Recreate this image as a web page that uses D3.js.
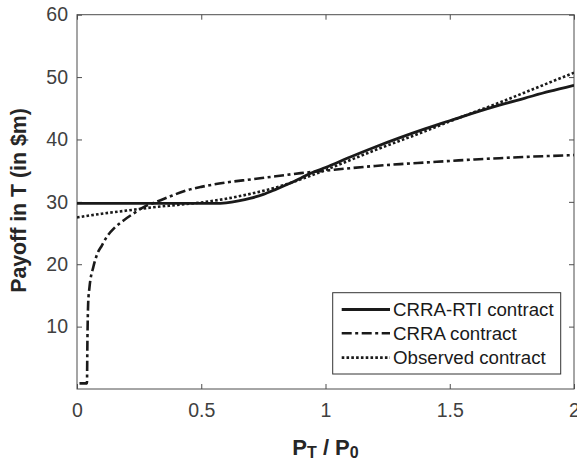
<!DOCTYPE html>
<html>
<head>
<meta charset="utf-8">
<script src="https://cdn.jsdelivr.net/npm/d3@7/dist/d3.min.js"></script>
<style>
  html, body { margin: 0; padding: 0; background: #fff; }
  svg { display: block; font-family: "Liberation Sans", Arial, Helvetica, sans-serif; }
</style>
</head>
<body>
<svg id="chart" width="577" height="461"></svg>
<script>
// ---- data ----
const rtiX   = [0, 0.1, 0.2, 0.3, 0.4, 0.5, 0.55, 0.6, 0.65, 0.7, 0.75, 0.8, 0.85, 0.9, 0.95, 1.0, 1.1, 1.2, 1.3, 1.4, 1.5, 1.6, 1.7, 1.8, 1.9, 2.0];
const rtiY   = [29.75, 29.75, 29.75, 29.75, 29.75, 29.75, 29.76, 29.85, 30.15, 30.6, 31.2, 32.0, 32.85, 33.8, 34.75, 35.5, 37.2, 38.8, 40.3, 41.7, 43.0, 44.3, 45.5, 46.6, 47.7, 48.7];

const crraX  = [0.01, 0.025, 0.04, 0.042, 0.045, 0.05, 0.066, 0.08, 0.1, 0.12, 0.15, 0.19, 0.23, 0.27, 0.32, 0.37, 0.43, 0.5, 0.6, 0.7, 0.8, 0.9, 1.0, 1.1, 1.2, 1.3, 1.4, 1.5, 1.6, 1.7, 1.8, 1.9, 2.0];
const crraY  = [0.9, 0.9, 0.9, 8.0, 13.8, 16.2, 19.6, 21.5, 23.0, 24.4, 25.8, 27.1, 28.2, 29.2, 30.0, 30.8, 31.7, 32.4, 33.1, 33.6, 34.1, 34.6, 35.0, 35.4, 35.75, 36.05, 36.3, 36.55, 36.8, 37.0, 37.2, 37.35, 37.5];

const obsX   = [0, 0.1, 0.2, 0.3, 0.4, 0.5, 0.6, 0.7, 0.8, 0.9, 1.0, 1.1, 1.2, 1.3, 1.4, 1.5, 1.6, 1.7, 1.8, 1.9, 2.0];
const obsY   = [27.5, 28.1, 28.6, 29.1, 29.5, 29.9, 30.5, 31.3, 32.3, 33.6, 35.1, 36.7, 38.3, 39.8, 41.3, 42.9, 44.4, 45.9, 47.5, 49.1, 50.7];

const xTicks = [0, 0.5, 1, 1.5, 2];
const xTickLabels = ["0", "0.5", "1", "1.5", "2"];
const yTicks = [10, 20, 30, 40, 50, 60];
const yTickLabels = ["10", "20", "30", "40", "50", "60"];

const seriesNames = ["CRRA-RTI contract", "CRRA contract", "Observed contract"];

// ---- layout ----
const svg = d3.select("#chart");
const L = 77, R = 574, T = 14.7, B = 389;
const axisColor = "#4d4d4d";
const textColor = "#404040";
const lineColor = "#1a1a1a";

const x = d3.scaleLinear().domain([0, 2]).range([L, R]);
const y = d3.scaleLinear().domain([0, 60]).range([B, T]);

// box
svg.append("rect")
  .attr("x", L).attr("y", T).attr("width", R - L).attr("height", B - T)
  .attr("fill", "none").attr("stroke", axisColor).attr("stroke-width", 1);

const tickLen = 5;
const fmtX = (d, i) => xTickLabels[i];
const fmtY = (d, i) => yTickLabels[i];

// bottom axis
const gB = svg.append("g").attr("transform", `translate(0,${B})`)
  .call(d3.axisBottom(x).tickValues(xTicks).tickFormat(fmtX).tickSizeInner(-tickLen).tickSizeOuter(0).tickPadding(14));
// left axis
const gL = svg.append("g").attr("transform", `translate(${L},0)`)
  .call(d3.axisLeft(y).tickValues(yTicks).tickFormat(fmtY).tickSizeInner(-tickLen).tickSizeOuter(0).tickPadding(14));
// top axis
const gT = svg.append("g").attr("transform", `translate(0,${T})`)
  .call(d3.axisTop(x).tickValues(xTicks).tickFormat("").tickSizeInner(-tickLen).tickSizeOuter(0));
// right axis
const gR = svg.append("g").attr("transform", `translate(${R},0)`)
  .call(d3.axisRight(y).tickValues(yTicks).tickFormat("").tickSizeInner(-tickLen).tickSizeOuter(0));

[gB, gL, gT, gR].forEach(g => {
  g.select(".domain").remove();
  g.selectAll(".tick line").attr("stroke", axisColor).attr("stroke-width", 1);
  g.selectAll(".tick text").attr("fill", textColor)
    .style("font-size", "19.5px").style("font-family", "'Liberation Sans', Arial, sans-serif");
});
gB.selectAll(".tick text").attr("dy", "0.71em");
gL.selectAll(".tick text").attr("dx", "5");

// ---- lines ----
svg.append("clipPath").attr("id", "plotclip")
  .append("rect").attr("x", L).attr("y", T).attr("width", R - L).attr("height", B - T);

const line = d3.line().x(d => x(d[0])).y(d => y(d[1])).curve(d3.curveMonotoneX);
const zip = (a, b) => a.map((v, i) => [v, b[i]]);

const styles = [
  { dash: null, width: 2.8 },
  { dash: "10,3.5,3,3.5", width: 2.6 },
  { dash: "2.6,2.2", width: 2.6 }
];
const datasets = [zip(rtiX, rtiY), zip(crraX, crraY), zip(obsX, obsY)];

const plot = svg.append("g").attr("clip-path", "url(#plotclip)");
datasets.forEach((data, i) => {
  plot.append("path")
    .datum(data)
    .attr("d", line)
    .attr("fill", "none")
    .attr("stroke", lineColor)
    .attr("stroke-width", styles[i].width)
    .attr("stroke-dasharray", styles[i].dash)
    .attr("stroke-linejoin", "round");
});

// ---- legend ----
const lg = svg.append("g");
lg.append("rect")
  .attr("x", 332.7).attr("y", 292.7).attr("width", 228).attr("height", 81.3)
  .attr("fill", "#fff").attr("stroke", "#333").attr("stroke-width", 1);
const rowY = [309.5, 333.2, 357.6];
seriesNames.forEach((name, i) => {
  lg.append("line")
    .attr("x1", 341.7).attr("x2", 390)
    .attr("y1", rowY[i]).attr("y2", rowY[i])
    .attr("stroke", lineColor)
    .attr("stroke-width", styles[i].width)
    .attr("stroke-dasharray", styles[i].dash);
  lg.append("text")
    .attr("x", 393).attr("y", rowY[i] + 6.7)
    .attr("fill", "#1a1a1a")
    .style("font-size", "18.7px")
    .text(name);
});

// ---- axis labels ----
svg.append("text")
  .attr("transform", "translate(25.5,200.5) rotate(-90)")
  .attr("text-anchor", "middle")
  .attr("fill", "#262626")
  .style("font-size", "21.3px").style("font-weight", "bold")
  .text("Payoff in T (in $m)");

const xl = svg.append("text")
  .attr("x", 325.5).attr("y", 454.5)
  .attr("text-anchor", "middle")
  .attr("fill", "#262626")
  .style("font-weight", "bold");
xl.append("tspan").style("font-size", "22px").text("P");
xl.append("tspan").style("font-size", "16px").attr("dy", 3.5).text("T");
xl.append("tspan").style("font-size", "22px").attr("dy", -3.5).text(" / P");
xl.append("tspan").style("font-size", "16px").attr("dy", 3.5).text("0");
</script>
</body>
</html>
